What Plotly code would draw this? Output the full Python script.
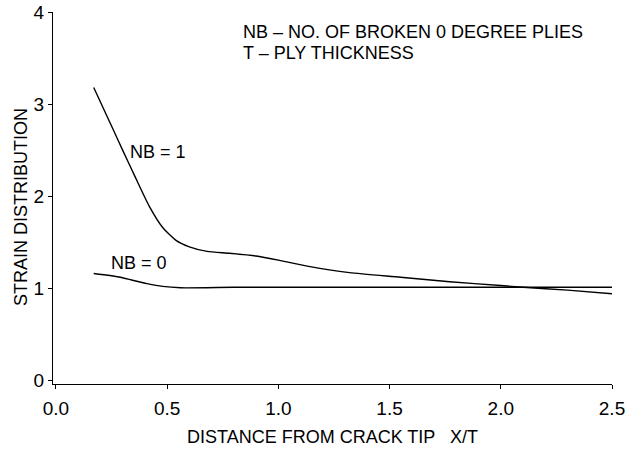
import plotly.graph_objects as go

# Data
x_nb1 = [0.17, 0.26, 0.30, 0.36, 0.42, 0.48, 0.54, 0.60, 0.68, 0.78, 0.90, 1.01, 1.13, 1.32, 1.55, 1.77, 2.00, 2.10, 2.30, 2.50]
y_nb1 = [3.18, 2.71, 2.50, 2.19, 1.89, 1.66, 1.52, 1.45, 1.40, 1.38, 1.35, 1.30, 1.24, 1.17, 1.12, 1.07, 1.03, 1.01, 0.98, 0.94]

x_nb0 = [0.17, 0.29, 0.34, 0.41, 0.48, 0.56, 0.80, 1.00, 1.50, 2.00, 2.50]
y_nb0 = [1.16, 1.12, 1.09, 1.05, 1.02, 1.005, 1.01, 1.01, 1.01, 1.01, 1.01]

x_ticks = [0.0, 0.5, 1.0, 1.5, 2.0, 2.5]
x_tick_labels = ["0.0", "0.5", "1.0", "1.5", "2.0", "2.5"]
y_ticks = [0, 1, 2, 3, 4]
y_tick_labels = ["0", "1", "2", "3", "4"]

FONT = "Liberation Sans, Arial, sans-serif"
line_style = dict(color="black", width=1.4, shape="spline", smoothing=0.6)

fig = go.Figure()
fig.add_trace(go.Scatter(x=x_nb1, y=y_nb1, mode="lines", line=line_style, name="NB = 1"))
fig.add_trace(go.Scatter(x=x_nb0, y=y_nb0, mode="lines", line=line_style, name="NB = 0"))

ann_font = dict(size=18, color="black", family=FONT)
fig.add_annotation(x=0.322, y=2.48, xref="x", yref="y", text="NB = 1", showarrow=False,
                   xanchor="left", yanchor="middle", font=ann_font)
fig.add_annotation(x=0.240, y=1.27, xref="x", yref="y", text="NB = 0", showarrow=False,
                   xanchor="left", yanchor="middle", font=ann_font)
fig.add_annotation(x=0.83, y=3.78, xref="x", yref="y", text="NB – NO. OF BROKEN 0 DEGREE PLIES",
                   showarrow=False, xanchor="left", yanchor="middle", font=ann_font)
fig.add_annotation(x=0.83, y=3.56, xref="x", yref="y", text="T – PLY THICKNESS",
                   showarrow=False, xanchor="left", yanchor="middle", font=ann_font)
# y-axis title placed as a rotated annotation to match the reference position
fig.add_annotation(x=-0.057, y=0.476, xref="paper", yref="paper", text="STRAIN DISTRIBUTION",
                   showarrow=False, textangle=-90, xanchor="center", yanchor="middle", font=ann_font)

fig.update_layout(
    width=628, height=452,
    margin=dict(l=53, r=16, t=12, b=68),
    paper_bgcolor="white", plot_bgcolor="white",
    showlegend=False,
    font=dict(family=FONT, color="black", size=18),
)
fig.update_xaxes(
    range=[-0.013, 2.5], tickvals=x_ticks, ticktext=x_tick_labels,
    automargin=False,
    showgrid=False, zeroline=False, showline=True, linecolor="black", linewidth=1.3,
    ticks="outside", ticklen=4, tickwidth=1.3, tickcolor="black",
    ticklabelstandoff=3,
    tickfont=dict(size=19, family=FONT, color="black"),
    title=dict(text="DISTANCE FROM CRACK TIP &nbsp; X/T", font=dict(size=18, family=FONT, color="black"), standoff=12),
)
fig.update_yaxes(
    range=[-0.04, 4.0], tickvals=y_ticks, ticktext=y_tick_labels,
    automargin=False,
    showgrid=False, zeroline=False, showline=True, linecolor="black", linewidth=1.3,
    ticks="outside", ticklen=4, tickwidth=1.3, tickcolor="black",
    tickfont=dict(size=19, family=FONT, color="black"),
)

fig.write_html("out.html")
